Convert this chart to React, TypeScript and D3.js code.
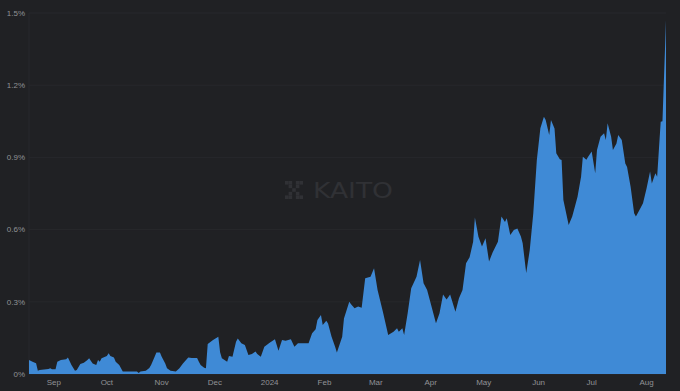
import React from "react";
import * as d3 from "d3";

// Dimensions
const W = 680;
const H = 391;
const margin = { top: 13, right: 14, bottom: 17, left: 29 };

// Colours
const bg = "#202124";
const areaFill = "#3f8ad6";
const gridColour = "#27282c";
const labelColour = "#909296";
const markColour = "#303135";

// Data: share in percent
const dates = [
  "2023-08-18", "2023-08-20", "2023-08-22", "2023-08-23", "2023-08-24", "2023-08-29", "2023-08-30", "2023-08-31",
  "2023-09-02", "2023-09-03", "2023-09-05", "2023-09-08", "2023-09-09", "2023-09-11", "2023-09-13", "2023-09-14",
  "2023-09-16", "2023-09-18", "2023-09-20", "2023-09-21", "2023-09-22", "2023-09-23", "2023-09-25", "2023-09-26",
  "2023-09-27", "2023-09-28",
  "2023-10-01", "2023-10-02", "2023-10-03", "2023-10-05", "2023-10-06", "2023-10-08", "2023-10-10", "2023-10-18",
  "2023-10-19", "2023-10-20", "2023-10-23", "2023-10-25", "2023-10-26", "2023-10-28", "2023-10-29", "2023-10-31",
  "2023-11-01", "2023-11-03", "2023-11-04", "2023-11-06", "2023-11-09", "2023-11-11", "2023-11-13", "2023-11-16",
  "2023-11-18", "2023-11-21", "2023-11-22", "2023-11-23", "2023-11-25", "2023-11-26", "2023-11-27", "2023-11-30",
  "2023-12-03", "2023-12-04", "2023-12-05", "2023-12-08", "2023-12-09", "2023-12-11", "2023-12-13", "2023-12-14",
  "2023-12-16", "2023-12-18", "2023-12-20", "2023-12-22", "2023-12-24", "2023-12-25", "2023-12-27", "2023-12-29",
  "2024-01-01", "2024-01-04", "2024-01-06", "2024-01-08", "2024-01-10", "2024-01-13", "2024-01-15", "2024-01-17",
  "2024-01-23", "2024-01-25", "2024-01-27", "2024-01-28", "2024-01-30", "2024-01-31",
  "2024-02-02", "2024-02-03", "2024-02-05", "2024-02-07", "2024-02-08", "2024-02-11", "2024-02-12", "2024-02-15",
  "2024-02-16", "2024-02-18", "2024-02-20", "2024-02-22", "2024-02-24", "2024-02-27", "2024-02-29",
  "2024-03-02", "2024-03-05", "2024-03-08", "2024-03-11", "2024-03-13", "2024-03-14", "2024-03-16", "2024-03-17",
  "2024-03-19", "2024-03-21", "2024-03-24", "2024-03-26", "2024-03-28", "2024-03-30",
  "2024-04-01", "2024-04-04", "2024-04-06", "2024-04-08", "2024-04-10", "2024-04-12", "2024-04-15", "2024-04-17",
  "2024-04-19", "2024-04-21", "2024-04-23", "2024-04-25", "2024-04-26", "2024-04-28", "2024-04-30",
  "2024-05-02", "2024-05-04", "2024-05-06", "2024-05-09", "2024-05-11", "2024-05-13", "2024-05-14", "2024-05-16",
  "2024-05-18", "2024-05-20", "2024-05-22", "2024-05-23", "2024-05-25", "2024-05-27", "2024-05-29", "2024-05-31",
  "2024-06-02", "2024-06-04", "2024-06-05", "2024-06-07", "2024-06-08", "2024-06-10", "2024-06-11", "2024-06-13",
  "2024-06-14", "2024-06-15", "2024-06-18", "2024-06-20", "2024-06-21", "2024-06-23", "2024-06-25", "2024-06-26",
  "2024-06-28", "2024-06-29",
  "2024-07-01", "2024-07-03", "2024-07-04", "2024-07-06", "2024-07-08", "2024-07-09", "2024-07-10", "2024-07-12",
  "2024-07-13", "2024-07-15", "2024-07-16", "2024-07-18", "2024-07-20", "2024-07-21", "2024-07-23", "2024-07-25",
  "2024-07-26", "2024-07-28", "2024-07-30",
  "2024-08-01", "2024-08-03", "2024-08-04", "2024-08-06", "2024-08-07", "2024-08-09", "2024-08-10", "2024-08-12",
];

const values = [
  0.058, 0.051, 0.045, 0.014, 0.017, 0.021, 0.024, 0.02,
  0.02, 0.051, 0.058, 0.061, 0.069, 0.037, 0.014, 0.017,
  0.042, 0.047, 0.058, 0.065, 0.054, 0.044, 0.037, 0.058,
  0.051, 0.065,
  0.075, 0.086, 0.075, 0.069, 0.051, 0.037, 0.01, 0.01,
  0.004, 0.01, 0.014, 0.025, 0.037, 0.072, 0.089, 0.089,
  0.072, 0.044, 0.024, 0.014, 0.01, 0.024, 0.044, 0.069,
  0.066, 0.066, 0.051, 0.037, 0.026, 0.024, 0.125, 0.141,
  0.155, 0.09, 0.065, 0.051, 0.075, 0.072, 0.134, 0.148,
  0.128, 0.12, 0.079, 0.083, 0.093, 0.083, 0.072, 0.113,
  0.13, 0.144, 0.097, 0.141, 0.138, 0.144, 0.113, 0.128,
  0.128, 0.169, 0.186, 0.224, 0.245, 0.204,
  0.221, 0.21, 0.155, 0.113, 0.089, 0.155, 0.231, 0.3,
  0.29, 0.273, 0.28, 0.275, 0.398, 0.404, 0.439,
  0.349, 0.259, 0.162, 0.176, 0.19, 0.176, 0.19, 0.162,
  0.252, 0.356, 0.404, 0.474, 0.377, 0.349,
  0.294, 0.211, 0.252, 0.33, 0.31, 0.33, 0.259, 0.315,
  0.349, 0.46, 0.485, 0.55, 0.65, 0.57, 0.53,
  0.564, 0.467, 0.505, 0.55, 0.654, 0.632, 0.647, 0.578,
  0.598, 0.605, 0.571, 0.543, 0.42, 0.515, 0.668, 0.889,
  1.021, 1.069, 1.055, 0.993, 1.055, 1.02, 0.917, 0.892,
  0.889, 0.723, 0.619, 0.654, 0.681, 0.737, 0.82, 0.903,
  0.89, 0.903,
  0.924, 0.834, 0.931, 0.986, 1.0, 0.972, 1.042, 0.986,
  0.931, 0.958, 0.993, 0.972, 0.875, 0.86, 0.778, 0.668,
  0.654, 0.681, 0.709,
  0.771, 0.841, 0.792, 0.834, 0.82, 1.048, 1.05, 1.47,
];

const yTicks = [0, 0.3, 0.6, 0.9, 1.2, 1.5];
const monthLabels = ["Sep", "Oct", "Nov", "Dec", "2024", "Feb", "Mar", "Apr", "May", "Jun", "Jul", "Aug"];

const parse = d3.timeParse("%Y-%m-%d");
const data = dates.map((d, i) => ({ date: parse(d) as Date, value: values[i] }));

// pixel pattern of the watermark logo (5x5 grid)
const logoCells = [
  [0, 0], [1, 0], [3, 0], [4, 0],
  [1, 1], [3, 1],
  [2, 2],
  [1, 3], [3, 3],
  [0, 4], [1, 4], [3, 4], [4, 4],
];

const App = () => {
  const x = d3
    .scaleTime()
    .domain(d3.extent(data, (d) => d.date) as [Date, Date])
    .range([margin.left, W - margin.right]);

  const y = d3
    .scaleLinear()
    .domain([0, 1.5])
    .range([H - margin.bottom, margin.top]);

  const area = d3
    .area<{ date: Date; value: number }>()
    .x((d) => x(d.date))
    .y0(y(0))
    .y1((d) => y(d.value));

  const monthTicks = d3.timeMonth.range(new Date(2023, 8, 1), new Date(2024, 8, 1));
  const fmtY = (v: number) => (v === 0 ? "0%" : v.toFixed(1) + "%");

  return (
    <svg
      width={W}
      height={H}
      style={{ position: "absolute", left: 0, top: 0, background: bg }}
      fontFamily="'Liberation Sans', Arial, sans-serif"
    >
      <rect x={0} y={0} width={W} height={H} fill={bg} />

      {/* gridlines */}
      {yTicks.map((t) => (
        <line
          key={t}
          x1={margin.left}
          x2={W - margin.right}
          y1={y(t)}
          y2={y(t)}
          stroke={gridColour}
          strokeWidth={1}
        />
      ))}
      <line x1={margin.left} x2={margin.left} y1={margin.top} y2={y(0)} stroke={gridColour} />

      {/* watermark */}
      <g transform="translate(285,181)">
        {logoCells.map(([cx, cy], i) => (
          <rect key={i} x={cx * 3.6} y={cy * 3.6} width={3.6} height={3.6} fill={markColour} />
        ))}
      </g>
      <text
        x={313}
        y={198}
        fontSize={22}
        fill={markColour}
        textLength={80}
        lengthAdjust="spacingAndGlyphs"
        fontFamily="'DejaVu Sans', sans-serif"
      >
        KAITO
      </text>

      {/* area */}
      <path d={area(data) || ""} fill={areaFill} />

      {/* y labels */}
      {yTicks.map((t) => (
        <text
          key={t}
          x={margin.left - 4}
          y={y(t)}
          dy="0.35em"
          textAnchor="end"
          fontSize={8}
          fill={labelColour}
        >
          {fmtY(t)}
        </text>
      ))}

      {/* x labels */}
      {monthTicks.map((m, i) => (
        <text
          key={i}
          x={x(m)}
          y={H - margin.bottom + 11}
          textAnchor="middle"
          fontSize={8}
          fill={labelColour}
        >
          {monthLabels[i]}
        </text>
      ))}
    </svg>
  );
};

export default App;
